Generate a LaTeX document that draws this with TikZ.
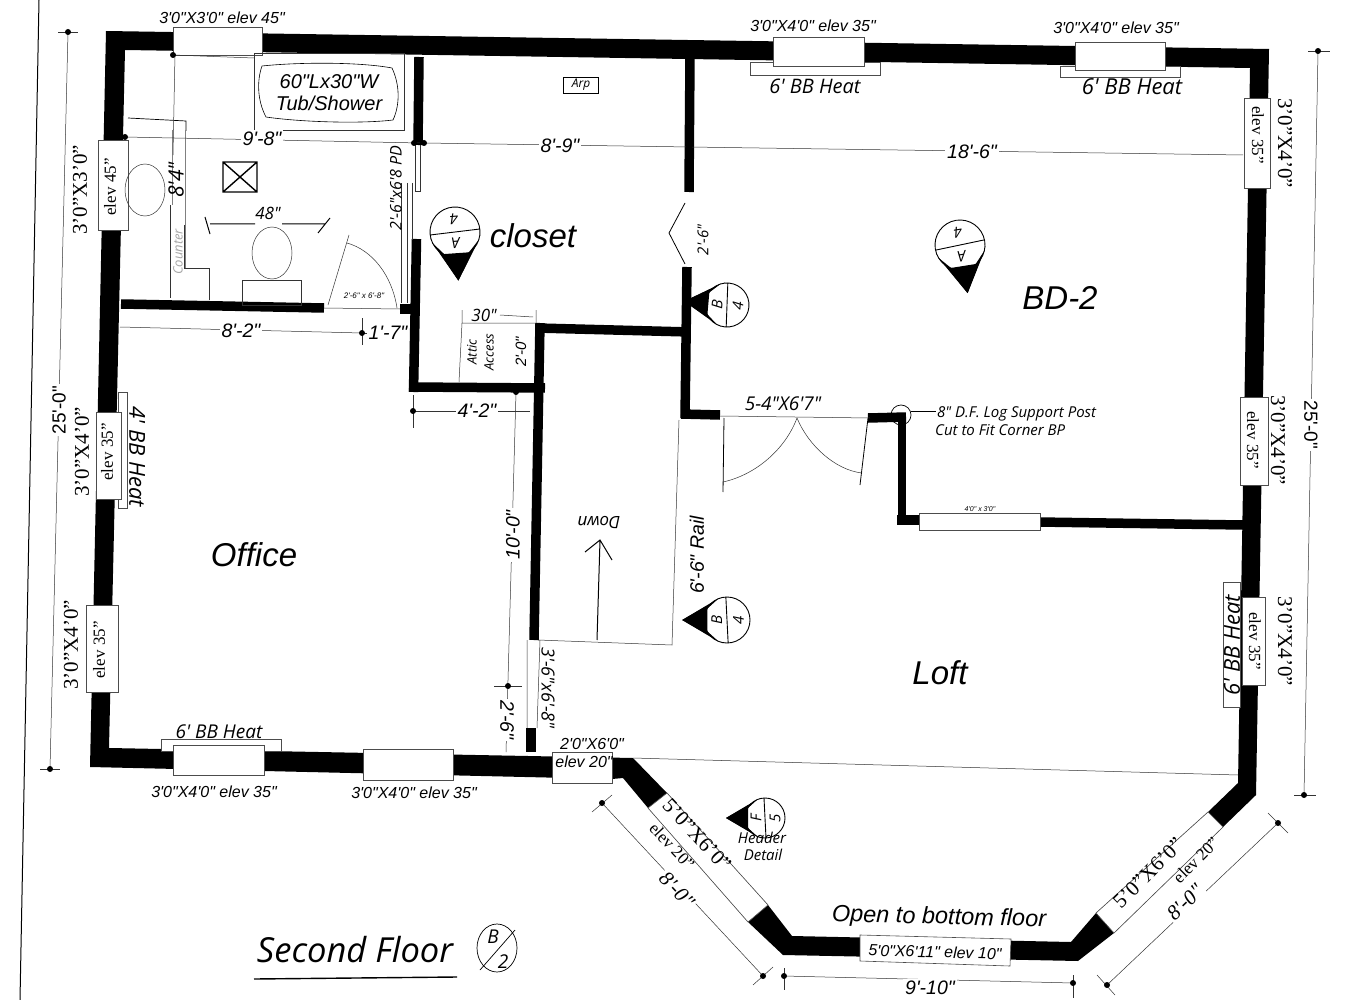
\documentclass[tikz,border=0pt]{standalone}
\usepackage{fontspec}
\newfontfamily\plansans{Liberation Sans}
\newfontfamily\planserif{Liberation Serif}
\newfontfamily\planhand{Open Sans}
\newcommand{\fsz}[1]{\fontsize{#1}{#1}\selectfont}
\tikzset{
	thinline/.style={line width=.5pt,black!80},
	wallline/.style={line width=9.5pt},
	winbox/.style={draw=black!70,fill=white,line width=.6pt},
	strip/.style={draw=black!70,fill=white,line width=.5pt},
	roomlabel/.style={font=\plansans\fsz{33}\itshape,inner sep=0pt},
	dimlabel/.style={font=\plansans\fsz{19.5}\itshape,fill=white,inner sep=2pt},
	winlabel/.style={font=\plansans\fsz{16}\itshape,inner sep=0pt},
	serlabel/.style={font=\planserif\fsz{21},inner sep=0pt},
	elevlabel/.style={font=\planserif\fsz{17},inner sep=0pt},
	handlabel/.style={font=\planhand\fsz{15}\itshape,inner sep=0pt},
}
\newcommand{\secmark}[7]{%
	\begin{scope}[shift={(#2,#3)},rotate=#5]
		\fill (0,1.95*#4)--(-#4,.2*#4)--(#4,.2*#4)--cycle;
		\draw[line width=.9pt,fill=white] (0,0) circle (#4);
		\fill (0,1.95*#4)--(-.95*#4,.35*#4)--(-.5*#4,.85*#4)--(.5*#4,.85*#4)--(.95*#4,.35*#4)--cycle;
		\draw[line width=.9pt] (-#4,.05*#4)--(#4,-.05*#4);
		\node[handlabel,rotate=#5+180] (#1a) at (0,-.5*#4) {#6};
		\node[handlabel,rotate=#5+180,fill=white,inner sep=1pt] (#1b) at (0,.45*#4) {#7};
	\end{scope}}
\begin{document}
\begin{tikzpicture}[x=1pt,y=-1pt]
	\useasboundingbox (0,0) rectangle (1346,1000);
	% page edge
	\draw[line width=1pt] (39,0)--(20,1000);
	% outside walls
	\fill[even odd rule] (106,31)--(1269,49)--(1256,795)--(1223,827)--(1114,933)--(1078,961)--(783,955)--(748,922)--(648,808)--(623,778)--(612,779)--(90,767)--cycle
	(125,50)--(1250,68)--(1238,783)--(1208,812)--(1096,913)--(1071,942)--(792,936)--(768,905)--(667,793)--(633,758)--(109,748)--cycle;
	% inside walls
	\draw[wallline] (121,304)--(324,308);
	\draw[wallline] (400,309)--(416,309);
	\draw[wallline] (419,57)--(418,145);
	\draw[wallline] (416.5,239)--(413.5,392);
	\draw[wallline] (409,387)--(545,388);
	\draw[wallline] (540,323)--(534,640);
	\draw[wallline] (537,328)--(690,332);
	\draw[wallline] (531,728)--(531,752);
	\draw[wallline] (690,55)--(689,192);
	\draw[wallline] (687,267)--(685,418);
	\draw[wallline] (681,414)--(720,415);
	\draw[wallline] (868,418)--(906,417);
	\draw[line width=8pt] (902,413)--(902,524);
	\draw[wallline] (897,520)--(922,520);
	\draw[wallline] (1038,522)--(1243,525);
	% thin lines of the loft and stairs
	\draw[thinline] (633,758)--(1238,775);
	\draw[thinline] (679,420)--(672,645)--(538,640);
	\draw[thinline] (527,640)--(527,728) (540,640)--(537,728);
	% windows, top and right
	\draw[strip] (750,62)--(880,62)--(880,75)--(750,75)--cycle;
	\draw[strip] (1060,66)--(1180,66)--(1180,77)--(1060,77)--cycle;
	\draw[winbox] (173,27) rectangle (262,55);
	\draw[winbox] (773,37) rectangle (864,66);
	\draw[winbox] (1075,42) rectangle (1165,70);
	\draw[winbox] (1244,98) rectangle (1270,188);
	\draw[winbox] (1240,397) rectangle (1268,485);
	\draw[strip] (1223,582) rectangle (1240,707);
	\draw[winbox] (1242,597) rectangle (1265,685);
	\draw[winbox] (919,513) rectangle (1040,530);
	% windows, left and bottom
	\draw[winbox] (98,140) rectangle (128,230);
	\draw[strip] (118,392) rectangle (127,508);
	\draw[winbox] (96,412) rectangle (121,499);
	\draw[winbox] (86,605) rectangle (118,692);
	\draw[strip] (161,739) rectangle (281,751);
	\draw[winbox] (173,745) rectangle (264,775);
	\draw[winbox] (363,749) rectangle (453,780);
	\draw[winbox] (552,752) rectangle (612,783);
	\draw[winbox] (860,935)--(1011,939)--(1010,966)--(860,961)--cycle;
	\draw[winbox] (667,793)--(768,905)--(748,922)--(648,808)--cycle;
	\draw[winbox] (1208,812)--(1223,827)--(1114,933)--(1096,913)--cycle;
	\node[winlabel] (w1) at (222,18) {3'0"X3'0" elev 45"};
	\node[winlabel] (w2) at (813,26) {3'0"X4'0" elev 35"};
	\node[winlabel] (w3) at (1116,28) {3'0"X4'0" elev 35"};
	\node[winlabel] (w4) at (214,792) {3'0"X4'0" elev 35"};
	\node[winlabel] (w5) at (414,793) {3'0"X4'0" elev 35"};
	\node[winlabel] (w6) at (592,744) {2'0"X6'0"};
	\node[winlabel] (w7) at (584,762) {elev 20"};
	\node[winlabel,rotate=-1.5] (w8) at (935,952) {5'0"X6'11" elev 10"};
	\node[font=\plansans\fsz{7}\itshape,inner sep=0pt] (w9) at (980,509) {4'0" x 3'0"};
	\node[serlabel,rotate=90] (s1) at (80,190) {3’0”X3’0”};
	\node[elevlabel,rotate=90] (s2) at (110,187) {elev 45”};
	\node[serlabel,rotate=90] (s3) at (82,452) {3’0”X4’0”};
	\node[elevlabel,rotate=90] (s4) at (107,452) {elev 35”};
	\node[serlabel,rotate=90] (s5) at (71,645) {3’0”X4’0”};
	\node[elevlabel,rotate=90] (s6) at (99,650) {elev 35”};
	\node[elevlabel,rotate=-90] (s7) at (1258,135) {elev 35”};
	\node[serlabel,rotate=-90] (s8) at (1285,143) {3’0”X4’0”};
	\node[elevlabel,rotate=-90] (s9) at (1253,440) {elev 35”};
	\node[serlabel,rotate=-90] (s10) at (1278,440) {3’0”X4’0”};
	\node[elevlabel,rotate=-90] (s11) at (1255,641) {elev 35”};
	\node[serlabel,rotate=-90] (s12) at (1285,641) {3’0”X4’0”};
	\node[serlabel,rotate=-47] (s13) at (697,835) {5’0”X6’0”};
	\node[elevlabel,rotate=-47] (s14) at (672,846) {elev 20”};
	\node[serlabel,rotate=45] (s15) at (1148,873) {5’0”X6’0”};
	\node[elevlabel,rotate=45] (s16) at (1196,860) {elev 20”};
	% baseboard heat notes
	\node[handlabel,font=\planhand\fsz{20}\itshape] (h1) at (815,86) {6' BB Heat};
	\node[handlabel,font=\planhand\fsz{22}\itshape] (h2) at (1132,87) {6' BB Heat};
	\node[handlabel,font=\planhand\fsz{22}\itshape,rotate=-90] (h3) at (137,457) {4' BB Heat};
	\node[handlabel,font=\planhand\fsz{19}\itshape] (h4) at (219,732) {6' BB Heat};
	\node[handlabel,font=\planhand\fsz{22}\itshape,rotate=90] (h5) at (1232,645) {6' BB Heat};
	% tub
	\draw[thinline] (173,55)--(254,58);
	\draw[thinline] (254,53) rectangle (404,130);
	\draw[line width=.6pt] (262,66) .. controls (300,62) and (360,62) .. (392,68) .. controls (400,85) and (400,105) .. (393,120) .. controls (360,124) and (300,122) .. (266,117) .. controls (257,100) and (257,80) .. (262,66);
	\node[font=\plansans\fsz{20}\itshape,inner sep=0pt] (tub1) at (329,82) {60"Lx30"W};
	\node[font=\plansans\fsz{20}\itshape,inner sep=0pt] (tub2) at (329,103) {Tub/Shower};
	% bath fixtures
	\draw[line width=.7pt] (128,118)--(186,121)--(186,131);
	\draw[thinline,black!50] (172,130)--(172,205) (185,130)--(185,268);
	\draw[thinline] (170,205)--(170,298) (184,225)--(184,268)--(209,268)--(209,300);
	\node[font=\planhand\fsz{13}\itshape,black!35,rotate=90,inner sep=0pt] (counter) at (178,252) {Counter};
	\draw[thinline] (145,190) ellipse (20 and 26);
	\draw[line width=1.4pt] (223,162) rectangle (257,192) (223,162)--(257,192) (257,162)--(223,192);
	\draw[line width=1pt] (205,217)--(210,234) (210,224)--(255,224) (282,224)--(325,224) (318,233)--(330,218);
	\node[handlabel,font=\planhand\fsz{17}\itshape] (w48) at (268,213) {48"};
	\draw[thinline] (272,253) ellipse (20 and 26);
	\draw[thinline] (242,280) rectangle (301,305);
	% bath doors
	\draw[thinline] (324,308)--(400,309);
	\draw[thinline] (328,305)--(349,235);
	\draw[thinline] (347,243) .. controls (372,250) and (392,275) .. (397,308);
	\node[font=\plansans\fsz{8}\itshape,inner sep=0pt] (bathdoor) at (364,296) {2'-6" x 6'-8"};
	\draw[thinline] (401,183)--(401,303) (407,183)--(407,303) (412,183)--(412,240);
	\draw[thinline] (415,145)--(415,191)--(420,191)--(420,145);
	\node[handlabel,font=\planhand\fsz{16}\itshape,rotate=90] (pd) at (396,188) {2'-6"x6'8 PD};
	% closet and attic
	\draw[line width=.7pt] (563,77) rectangle (598,93);
	\node[font=\planhand\fsz{12}\itshape,inner sep=0pt] (arp) at (581,85) {Arp};
	\draw[thinline] (459,382)--(462,323)--(535,323) (462,310)--(462,323) (536,310)--(536,323);
	\draw[thinline] (500,315)--(533,317);
	\node[handlabel,font=\planhand\fsz{17}\itshape] (attic30) at (484,315) {30"};
	\node[font=\planhand\fsz{13}\itshape,rotate=90,inner sep=0pt] (attic1) at (472,352) {Attic};
	\node[font=\planhand\fsz{13}\itshape,rotate=90,inner sep=0pt] (attic2) at (489,352) {Access};
	\node[font=\plansans\fsz{15}\itshape,rotate=90,inner sep=0pt] (attic3) at (521,352) {2'-0"};
	\draw[line width=.8pt] (685,203)--(669,233)--(685,264);
	\node[handlabel,rotate=90] (door26) at (703,240) {2'-6"};
	% bedroom door and post
	\draw[thinline] (720,416)--(870,418);
	\draw[line width=.8pt] (724,418)--(723,492);
	\draw[thinline] (723,482) .. controls (755,475) and (785,450) .. (797,418);
	\draw[line width=.8pt] (868,418)--(860,485);
	\draw[thinline] (862,473) .. controls (835,470) and (808,445) .. (797,418);
	\node[handlabel,font=\planhand\fsz{19}\itshape] (bddoor) at (783,404) {5-4"X6'7"};
	\draw[line width=.7pt] (901,415) circle (10);
	\draw[line width=.7pt] (911,411)--(936,411);
	\node[handlabel,anchor=west] (post1) at (937,414) {8" D.F. Log Support Post};
	\node[handlabel,anchor=west] (post2) at (935,430) {Cut to Fit Corner BP};
	% stairs
	\draw[line width=1pt] (597,640)--(600,540) (585,552)--(600,540)--(612,560);
	\node[font=\planhand\fsz{17}\itshape,rotate=180,inner sep=0pt] (stairs) at (599,522) {Down};
	\node[font=\plansans\fsz{19.5}\itshape,rotate=90,inner sep=0pt] (rail) at (697,555) {6'-6" Rail};
	\node[handlabel,font=\planhand\fsz{18}\itshape,rotate=-90] (door68) at (548,688) {3'-6"x6'-8"};
	% dimensions
	\draw[thinline] (68,32)--(50,769);
	\draw[thinline] (58,32)--(78,32) (40,769)--(60,769);
	\draw[thinline] (1318,51)--(1304,795);
	\draw[thinline] (1308,51)--(1330,51) (1294,795)--(1316,795);
	\draw[thinline] (125,137)--(420,143);
	\draw[thinline] (424,143)--(690,147);
	\draw[thinline] (690,147)--(1243,155);
	\draw[thinline] (175,54)--(173,155);
	\draw[thinline] (120,327)--(362,333);
	\draw[thinline] (362,318)--(362,345);
	\draw[thinline] (362,333)--(408,333);
	\draw[thinline] (413,395)--(413,428);
	\draw[thinline] (413,411)--(530,411);
	\draw[thinline] (516,392)--(506,752);
	\draw[thinline] (494,686)--(522,686);
	\draw[thinline] (784,968)--(784,990) (1073,975)--(1073,998);
	\draw[thinline] (784,976)--(1073,983);
	\draw[thinline] (602,803)--(763,976);
	\draw[thinline] (592,812)--(612,795) (753,985)--(773,967);
	\draw[thinline] (1278,823)--(1107,985);
	\draw[thinline] (1268,813)--(1288,833) (1097,975)--(1115,995);
	\foreach \pt in {(68,32),(50,769),(1318,51),(1304,795),(125,137),(173,55),(414,143),(424,143),(689,147),(362,333),(413,411),(516,392),(508,686),(784,976),(1073,983),(602,803),(763,976),(1278,823),(1107,985)}
	\fill \pt circle (3);
	\node[dimlabel,rotate=90,font=\plansans\fsz{19}] (d1) at (59,410) {25'-0"};
	\node[dimlabel,rotate=-90,font=\plansans\fsz{19}] (d2) at (1311,425) {25'-0"};
	\node[dimlabel] (d3) at (262,139) {9'-8"};
	\node[dimlabel] (d4) at (560,146) {8'-9"};
	\node[dimlabel] (d5) at (972,152) {18'-6"};
	\node[font=\planhand\fsz{21}\itshape,rotate=90,inner sep=0pt] (d6) at (176,180) {8'4"};
	\node[dimlabel] (d7) at (241,331) {8'-2"};
	\node[dimlabel] (d8) at (388,333) {1'-7"};
	\node[dimlabel] (d9) at (477,411) {4'-2"};
	\node[dimlabel,rotate=90] (d10) at (513,535) {10'-0"};
	\node[dimlabel,rotate=-90] (d11) at (507,720) {2'-6"};
	\node[dimlabel] (d12) at (930,988) {9'-10"};
	\node[dimlabel,rotate=-47,font=\planserif\fsz{21}\itshape] (d13) at (677,890) {8'-0"};
	\node[dimlabel,rotate=44,font=\planserif\fsz{21}\itshape] (d14) at (1185,902) {8'-0"};
	% section marks
	\secmark{closetmark}{455}{232}{25}{4}{4}{A}
	\secmark{bdmark}{960}{245}{25}{9}{4}{A}
	\secmark{bmark}{727}{305}{22}{-95}{4}{B}
	\secmark{loftmark}{727}{620}{23}{-90}{4}{B}
	\secmark{hdrmark}{765}{818}{20}{-90}{5}{F}
	\draw[line width=.7pt] (497,948) ellipse (20 and 24);
	\draw[line width=.7pt] (515,930)--(480,970);
	\node[handlabel,font=\planhand\fsz{19}\itshape] (sheet1) at (493,937) {B};
	\node[handlabel,font=\planhand\fsz{19}\itshape] (sheet2) at (503,962) {2};
	% room names
	\node[roomlabel] (office) at (254,555) {Office};
	\node[roomlabel] (closet) at (533,236) {closet};
	\node[roomlabel] (bdtwo) at (1060,298) {BD-2};
	\node[roomlabel] (loft) at (940,673) {Loft};
	\node[font=\plansans\fsz{23.5}\itshape,rotate=-1.5,inner sep=0pt] (openfloor) at (939,918) {Open to bottom floor};
	\node[handlabel] (hdr1) at (762,838) {Header};
	\node[handlabel] (hdr2) at (763,855) {Detail};
	% drawing title
	\node[font=\planhand\fsz{34.5}\itshape,inner sep=0pt] (title) at (355,950) {Second Floor};
	\draw[line width=1.4pt] (254,979)--(457,977);
\end{tikzpicture}
\end{document}
